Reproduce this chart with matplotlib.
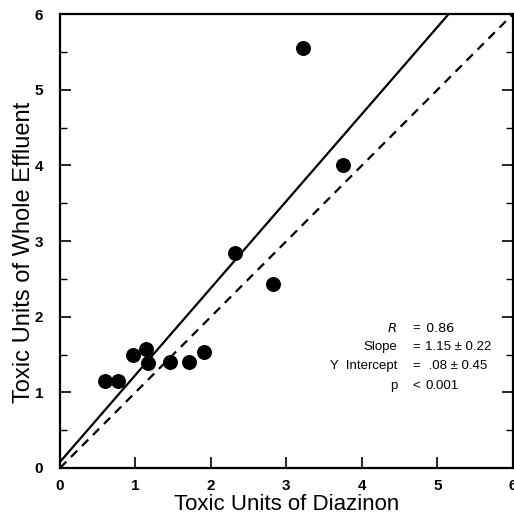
import numpy as np
import matplotlib
matplotlib.use("Agg")
import matplotlib.pyplot as plt
from matplotlib.ticker import MultipleLocator

plt.rcParams['font.family'] = ['Liberation Sans', 'DejaVu Sans']

# toxic units
diazinon = [0.60, 0.77, 0.97, 1.14, 1.17, 1.46, 1.71, 1.91, 2.32, 2.82, 3.22, 3.75]
effluent = [1.15, 1.15, 1.50, 1.57, 1.39, 1.40, 1.40, 1.53, 2.84, 2.43, 5.56, 4.00]

slope = 1.15
intercept = 0.08

fig = plt.figure(figsize=(5.14, 5.27), dpi=100)
ax = fig.add_axes([0.1167, 0.112, 0.881, 0.861])

ax.scatter(diazinon, effluent, s=95, color='black', zorder=3)

xr = np.array([0, (6 - intercept) / slope])
ax.plot(xr, slope * xr + intercept, color='black', lw=1.6)
ax.plot([0, 6], [0, 6], color='black', lw=1.6, ls=(0, (4, 3)))

ax.set_xlim(0, 6)
ax.set_ylim(0, 6)
ax.xaxis.set_major_locator(MultipleLocator(1))
ax.yaxis.set_major_locator(MultipleLocator(1))
ax.yaxis.set_minor_locator(MultipleLocator(0.5))
ax.tick_params(which='major', direction='in', length=8, width=1.2, labelsize=11, right=True)
ax.tick_params(which='minor', direction='in', length=5, width=1.0, right=True)
ax.tick_params(axis='x', pad=8)
ax.tick_params(axis='y', pad=12)
for lab in ax.get_xticklabels() + ax.get_yticklabels():
    lab.set_fontweight('bold')
for sp in ax.spines.values():
    sp.set_linewidth(1.6)

ax.set_xlabel("Toxic Units of Diazinon", fontsize=16, labelpad=1)
ax.set_ylabel("Toxic Units of Whole Effluent", fontsize=17, labelpad=0)
ax.yaxis.label.set_y(0.475)

# statistics block, lined up on the "=" signs
fs = 9.5
rows = [(r"$R$", "=", r"$0.86$"),
        ("Slope", "=", "1.15 \u00b1 0.22"),
        ("Y  Intercept", "=", " .08 \u00b1 0.45"),
        ("p", "<", "0.001")]
ys = [1.85, 1.60, 1.35, 1.09]
for (left, op, right), yy in zip(rows, ys):
    ax.text(4.47, yy, left, ha='right', va='center', fontsize=fs)
    ax.text(4.72, yy, op, ha='center', va='center', fontsize=fs)
    ax.text(4.84, yy, right, ha='left', va='center', fontsize=fs)

fig.savefig("out.png", dpi=100)
